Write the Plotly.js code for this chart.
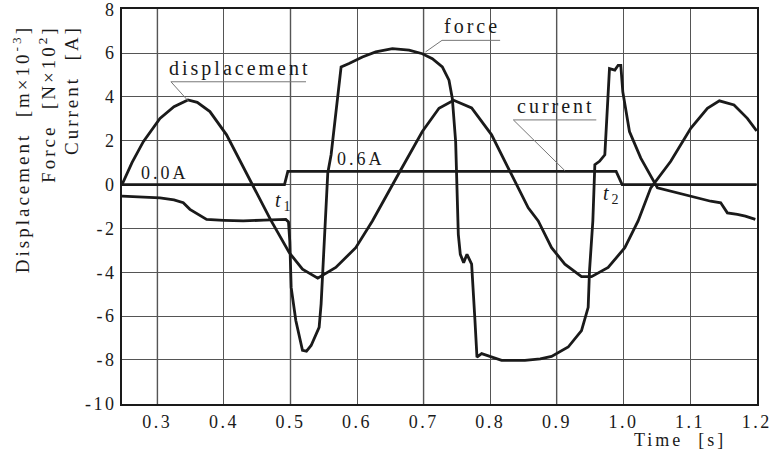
<!DOCTYPE html>
<html>
<head>
<meta charset="utf-8">
<script src="https://cdn.plot.ly/plotly-3.0.1.min.js"></script>
<style>
html,body{margin:0;padding:0;background:#fff;}
svg text{letter-spacing:3px;}
svg .xtick text, svg .ytick text{letter-spacing:2.5px;}
</style>
</head>
<body>
<div id="chart" style="width:772px;height:459px;"></div>
<script>
// ---- data ----
var dispT = [0.247,0.262,0.279,0.304,0.325,0.346,0.360,0.379,0.404,0.443,0.470,0.498,0.518,0.541,0.568,0.598,0.623,0.663,0.698,0.723,0.745,0.772,0.802,0.832,0.857,0.872,0.892,0.912,0.937,0.952,0.977,1.002,1.022,1.041,1.071,1.101,1.126,1.144,1.166,1.186,1.200];
var dispV = [0.0,1.0,1.96,3.02,3.55,3.86,3.75,3.33,2.27,0.0,-1.6,-3.1,-3.86,-4.27,-3.78,-2.88,-1.66,0.53,2.42,3.48,3.85,3.5,2.27,0.45,-1.06,-1.66,-2.88,-3.63,-4.2,-4.2,-3.78,-2.88,-1.66,-0.15,1.06,2.57,3.48,3.82,3.63,3.02,2.45];

var forceT = [0.247,0.304,0.325,0.339,0.349,0.360,0.374,0.400,0.429,0.460,0.493,0.497,0.499,0.501,0.508,0.518,0.524,0.531,0.543,0.546,0.551,0.556,0.561,0.576,0.588,0.608,0.628,0.653,0.678,0.698,0.713,0.728,0.738,0.743,0.748,0.752,0.755,0.760,0.765,0.772,0.777,0.780,0.787,0.800,0.817,0.852,0.875,0.892,0.917,0.937,0.947,0.949,0.954,0.957,0.964,0.972,0.979,0.987,0.992,0.996,0.999,1.009,1.026,1.051,1.091,1.131,1.146,1.156,1.171,1.183,1.198];
var forceV = [-0.53,-0.61,-0.7,-0.83,-1.13,-1.35,-1.59,-1.63,-1.66,-1.62,-1.59,-1.7,-2.6,-4.69,-6.2,-7.56,-7.6,-7.34,-6.51,-5.44,-2.42,0.53,1.36,5.37,5.52,5.82,6.05,6.2,6.13,5.97,5.74,5.37,4.76,3.93,1.96,-2.27,-3.18,-3.56,-3.18,-3.63,-6.2,-7.87,-7.71,-7.85,-8.02,-8.02,-7.95,-7.84,-7.41,-6.66,-5.6,-3.93,-1.66,0.91,1.06,1.36,5.29,5.22,5.44,5.44,4.23,2.42,1.21,-0.15,-0.45,-0.76,-0.83,-1.29,-1.36,-1.44,-1.59];

var currT = [0.247,0.491,0.496,0.989,0.998,1.200];
var currV = [0.0,0.0,0.6,0.6,0.0,0.0];

var xTickVals = [0.3,0.4,0.5,0.6,0.7,0.8,0.9,1.0,1.1,1.2];
var xTickText = ["0.3","0.4","0.5","0.6","0.7","0.8","0.9","1.0","1.1","1.2"];
var yTickVals = [8,6,4,2,0,-2,-4,-6,-8,-10];
var yTickText = ["8","6","4","2","0","-2","-4","-6","-8","-10"];
var lightGrid = [0.3,0.5,0.7,0.9];

var serif = "Liberation Serif";
var lineStyle = {color:"#1a1a1a", width:2.8};

var traces = [
  {x:dispT, y:dispV, mode:"lines", line:lineStyle, name:"displacement", hoverinfo:"skip"},
  {x:forceT, y:forceV, mode:"lines", line:lineStyle, name:"force", hoverinfo:"skip"},
  {x:currT, y:currV, mode:"lines", line:lineStyle, name:"current", hoverinfo:"skip"}
];

var shapes = lightGrid.map(function(v){
  return {type:"line", xref:"x", yref:"paper", x0:v, x1:v, y0:0, y1:1, layer:"below",
          line:{color:"#b8b8b8", width:2}};
});
var lead = {color:"#777", width:1};
shapes.push({type:"line", xref:"x", yref:"y", x0:0.3205, x1:0.5233, y0:4.69, y1:4.69, line:lead});
shapes.push({type:"line", xref:"x", yref:"y", x0:0.3205, x1:0.3463, y0:4.69, y1:3.82, line:lead});
shapes.push({type:"line", xref:"x", yref:"y", x0:0.7275, x1:0.8148, y0:6.58, y1:6.58, line:lead});
shapes.push({type:"line", xref:"x", yref:"y", x0:0.7275, x1:0.7027, y0:6.58, y1:6.05, line:lead});
shapes.push({type:"line", xref:"x", yref:"y", x0:0.8347, x1:0.9592, y0:2.95, y1:2.95, line:lead});
shapes.push({type:"line", xref:"x", yref:"y", x0:0.8347, x1:0.912, y0:2.95, y1:0.635, line:lead});

var labFont = {family:serif, size:20, color:"#1a1a1a"};
var smallFont = {family:serif, size:18, color:"#1a1a1a"};
var titleFont = {family:serif, size:19, color:"#1a1a1a"};
var ann = [
  {x:0.424, y:5.3, xref:"x", yref:"y", text:"displacement", showarrow:false, font:labFont},
  {x:0.773, y:7.25, xref:"x", yref:"y", text:"force", showarrow:false, font:labFont},
  {x:0.898, y:3.6, xref:"x", yref:"y", text:"current", showarrow:false, font:labFont},
  {x:0.3116, y:0.53, xref:"x", yref:"y", text:"0.0A", showarrow:false, font:smallFont},
  {x:0.6055, y:1.18, xref:"x", yref:"y", text:"0.6A", showarrow:false, font:smallFont},
  {x:0.491, y:-0.76, xref:"x", yref:"y", text:"<i>t</i><sub>1</sub>", showarrow:false, font:labFont},
  {x:0.984, y:-0.45, xref:"x", yref:"y", text:"<i>t</i><sub>2</sub>", showarrow:false, font:labFont},
  {x:0.878, y:-0.09, xref:"paper", yref:"paper", text:"Time  [s]", showarrow:false, font:smallFont, xanchor:"center", yanchor:"middle"},
  {x:-0.16, y:0.965, xref:"paper", yref:"paper", text:"Displacement  [m×10<sup>-3</sup>]", textangle:-90, showarrow:false, font:titleFont, xanchor:"center", yanchor:"top"},
  {x:-0.118, y:0.965, xref:"paper", yref:"paper", text:"Force  [N×10<sup>2</sup>]", textangle:-90, showarrow:false, font:titleFont, xanchor:"center", yanchor:"top"},
  {x:-0.0785, y:0.965, xref:"paper", yref:"paper", text:"Current  [A]", textangle:-90, showarrow:false, font:titleFont, xanchor:"center", yanchor:"top"}
];

var layout = {
  width:772, height:459,
  margin:{l:122, r:15, t:9, b:55},
  paper_bgcolor:"#fff", plot_bgcolor:"#fff",
  showlegend:false,
  font:{family:serif, size:18, color:"#1a1a1a"},
  xaxis:{range:[0.247,1.2005], tickvals:xTickVals, ticktext:xTickText,
         showgrid:true, gridcolor:"#555", gridwidth:1, ticklabeloverflow:"allow",
         showline:true, linecolor:"#1a1a1a", linewidth:2, mirror:true,
         zeroline:false, ticks:"", tickfont:{family:serif,size:18,color:"#1a1a1a"}},
  yaxis:{range:[-10.01,8.01], tickvals:yTickVals, ticktext:yTickText,
         showgrid:true, gridcolor:"#555", gridwidth:1, ticklabeloverflow:"allow",
         showline:true, linecolor:"#1a1a1a", linewidth:2, mirror:true,
         zeroline:false, ticks:"", tickfont:{family:serif,size:18,color:"#1a1a1a"}},
  shapes:shapes,
  annotations:ann
};

Plotly.newPlot("chart", traces, layout, {staticPlot:true, displayModeBar:false});
</script>
</body>
</html>
